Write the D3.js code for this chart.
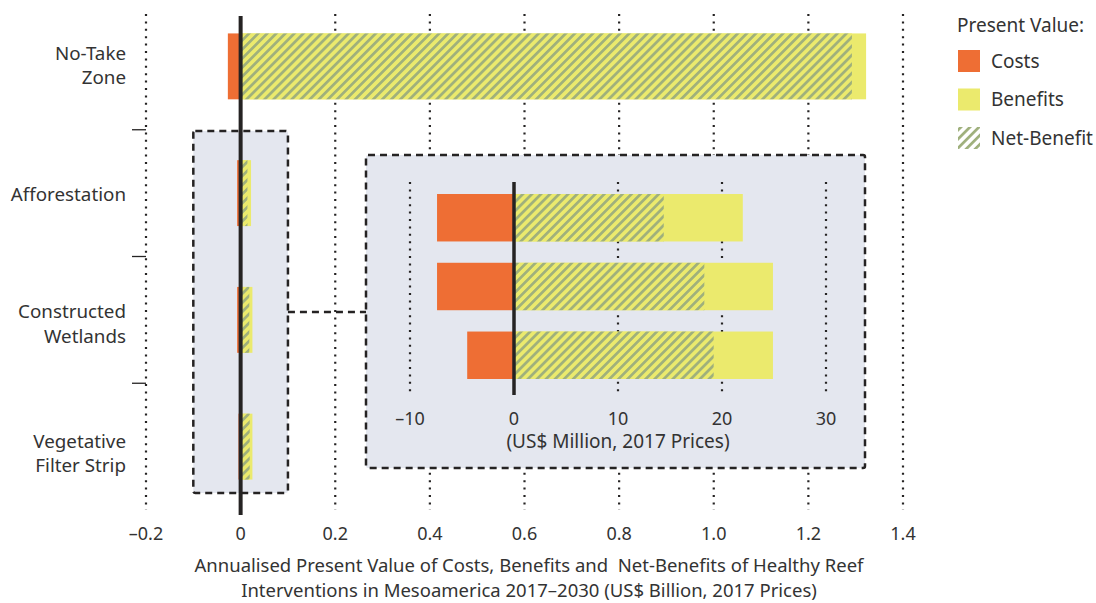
<!DOCTYPE html>
<html>
<head>
<meta charset="utf-8">
<script src="https://cdn.jsdelivr.net/npm/d3@7"></script>
<style>
  body { margin: 0; background: #fff; }
  text { font-family: "Source Sans Pro", "Noto Sans", sans-serif; fill: #333; }
</style>
</head>
<body>
<div id="chart"></div>
<script>
// data (US$ Billion)
var categories = ["No-Take Zone", "Afforestation", "Constructed Wetlands", "Vegetative Filter Strip"]
var catLines = [["No-Take", "Zone"], ["Afforestation"], ["Constructed", "Wetlands"], ["Vegetative", "Filter Strip"]]
var costs = [-0.027, -0.0074, -0.0074, -0.0045]
var benefits = [1.322, 0.022, 0.0249, 0.0249]
var netBenefits = [1.292, 0.0144, 0.0183, 0.0192]
var mainTicks = [-0.2, 0, 0.2, 0.4, 0.6, 0.8, 1.0, 1.2, 1.4]
var mainTickLabels = ["–0.2", "0", "0.2", "0.4", "0.6", "0.8", "1.0", "1.2", "1.4"]
var insetTicks = [-10, 0, 10, 20, 30]
var insetTickLabels = ["–10", "0", "10", "20", "30"]
var legendItems = ["Costs", "Benefits", "Net-Benefit"]

var orange = "#ee6e34", yellow = "#ebea6d", stripe = "#9fb07c", boxBg = "#e4e7ef", ink = "#252323"

var W = 1096, H = 603

var svg = d3.select("#chart").append("svg")
  .attr("width", W)
  .attr("height", H)

// hatch patterns
var defs = svg.append("defs")
function hatch(id, bg) {
  var p = defs.append("pattern")
    .attr("id", id)
    .attr("patternUnits", "userSpaceOnUse")
    .attr("width", 6.4)
    .attr("height", 6.4)
    .attr("patternTransform", "rotate(45)")
  if (bg) p.append("rect").attr("width", 6.4).attr("height", 6.4).attr("fill", bg)
  p.append("rect").attr("x", 0).attr("width", 2.7).attr("height", 6.4).attr("fill", stripe)
}
hatch("hatch", yellow)
hatch("hatchLegend", null)

var x = d3.scaleLinear().domain([-0.2, 1.4]).range([146, 903])
var y = d3.scaleBand().domain(categories).range([3, 510]).paddingInner(0.48).paddingOuter(0.24)
var yStep = d3.scaleBand().domain(categories).range([3, 510])
var yLab = d3.scaleBand().domain(categories).range([1, 518])

// dotted grid
svg.append("g").selectAll("line")
  .data(mainTicks.filter(function(d){ return d != 0 }))
  .enter().append("line")
    .attr("x1", function(d){ return x(d) }).attr("x2", function(d){ return x(d) })
    .attr("y1", 14).attr("y2", 510)
    .attr("stroke", ink).attr("stroke-width", 2.2)
    .attr("stroke-dasharray", "2,5.4")

// band boundary ticks on the left
svg.append("g").selectAll("line")
  .data(categories.slice(1))
  .enter().append("line")
    .attr("x1", 132).attr("x2", 146)
    .attr("y1", function(d){ return yStep(d) }).attr("y2", function(d){ return yStep(d) })
    .attr("stroke", ink).attr("stroke-width", 1.3)

// category labels
var lab = svg.append("g").selectAll("text")
  .data(categories)
  .enter().append("text")
    .attr("text-anchor", "end")
    .style("font-size", "18.8px")
lab.each(function(d, i) {
  var lines = catLines[i]
  var cy = yLab(d) + yLab.bandwidth() / 2 + 6.5
  var t = d3.select(this)
  lines.forEach(function(l, j) {
    t.append("tspan").attr("x", 126)
      .attr("y", cy + (j - (lines.length - 1) / 2) * 24.5)
      .text(l)
  })
})

// small highlight box around the tiny bars
svg.append("rect")
  .attr("x", x(-0.1)).attr("width", x(0.1) - x(-0.1))
  .attr("y", 131).attr("height", 362)
  .attr("rx", 2)
  .attr("fill", boxBg).attr("stroke", ink).attr("stroke-width", 2.5)
  .attr("stroke-dasharray", "7,5")

function drawBars(g, xs, ys, scale) {
  g.selectAll(".cost").data(ys.domain())
    .enter().append("rect")
      .attr("x", function(d){ return xs(costs[categories.indexOf(d)] * scale) })
      .attr("width", function(d){ return xs(0) - xs(costs[categories.indexOf(d)] * scale) })
      .attr("y", function(d){ return ys(d) }).attr("height", ys.bandwidth())
      .attr("fill", orange)
  g.selectAll(".ben").data(ys.domain())
    .enter().append("rect")
      .attr("x", xs(0))
      .attr("width", function(d){ return xs(benefits[categories.indexOf(d)] * scale) - xs(0) })
      .attr("y", function(d){ return ys(d) }).attr("height", ys.bandwidth())
      .attr("fill", yellow)
  g.selectAll(".net").data(ys.domain())
    .enter().append("rect")
      .attr("x", xs(0))
      .attr("width", function(d){ return xs(netBenefits[categories.indexOf(d)] * scale) - xs(0) })
      .attr("y", function(d){ return ys(d) }).attr("height", ys.bandwidth())
      .attr("fill", "url(#hatch)")
}

drawBars(svg.append("g"), x, y, 1)

// zero line
svg.append("line")
  .attr("x1", x(0)).attr("x2", x(0)).attr("y1", 16).attr("y2", 515)
  .attr("stroke", ink).attr("stroke-width", 4)

// main x axis labels
svg.append("g").selectAll("text")
  .data(mainTicks)
  .enter().append("text")
    .attr("x", function(d){ return x(d) })
    .attr("y", 540)
    .attr("text-anchor", "middle")
    .style("font-size", "18px")
    .text(function(d, i){ return mainTickLabels[i] })

svg.append("text")
  .attr("x", 529).attr("y", 571.5)
  .attr("text-anchor", "middle")
  .style("font-size", "18.5px").style("white-space", "pre")
  .text("Annualised Present Value of Costs, Benefits and  Net-Benefits of Healthy Reef")
svg.append("text")
  .attr("x", 529).attr("y", 597)
  .attr("text-anchor", "middle")
  .style("font-size", "18.5px")
  .text("Interventions in Mesoamerica 2017–2030 (US$ Billion, 2017 Prices)")

// connector
svg.append("line")
  .attr("x1", x(0.1)).attr("x2", 366).attr("y1", 312).attr("y2", 312)
  .attr("stroke", ink).attr("stroke-width", 2.5).attr("stroke-dasharray", "7,5")

// inset
var inset = svg.append("g")
inset.append("rect")
  .attr("x", 366).attr("y", 155).attr("width", 499).attr("height", 313)
  .attr("rx", 2)
  .attr("fill", boxBg).attr("stroke", ink).attr("stroke-width", 2.5)
  .attr("stroke-dasharray", "7,5")

var xi = d3.scaleLinear().domain([-10, 30]).range([410, 826])
var yi = d3.scaleBand().domain(categories.slice(1)).range([183, 390]).paddingInner(0.31).paddingOuter(0.16)

inset.append("g").selectAll("line")
  .data(insetTicks.filter(function(d){ return d != 0 }))
  .enter().append("line")
    .attr("x1", function(d){ return xi(d) }).attr("x2", function(d){ return xi(d) })
    .attr("y1", 182).attr("y2", 395)
    .attr("stroke", ink).attr("stroke-width", 2.2)
    .attr("stroke-dasharray", "2,5.4")

drawBars(inset.append("g"), xi, yi, 1000)

inset.append("line")
  .attr("x1", xi(0)).attr("x2", xi(0)).attr("y1", 182).attr("y2", 395)
  .attr("stroke", ink).attr("stroke-width", 3.5)

inset.append("g").selectAll("text")
  .data(insetTicks)
  .enter().append("text")
    .attr("x", function(d){ return xi(d) })
    .attr("y", 425)
    .attr("text-anchor", "middle")
    .style("font-size", "18px")
    .text(function(d, i){ return insetTickLabels[i] })

inset.append("text")
  .attr("x", xi(10)).attr("y", 448)
  .attr("text-anchor", "middle")
  .style("font-size", "19px")
  .text("(US$ Million, 2017 Prices)")

// legend
var leg = svg.append("g")
leg.append("text").attr("x", 957).attr("y", 32).style("font-size", "19px").text("Present Value:")
var fills = [orange, yellow, "url(#hatchLegend)"]
legendItems.forEach(function(d, i) {
  var yy = 50 + i * 38.5
  leg.append("rect").attr("x", 958).attr("y", yy).attr("width", 22).attr("height", 22).attr("fill", fills[i])
  leg.append("text").attr("x", 991).attr("y", yy + 17.5).style("font-size", "19px").text(d)
})
</script>
</body>
</html>
